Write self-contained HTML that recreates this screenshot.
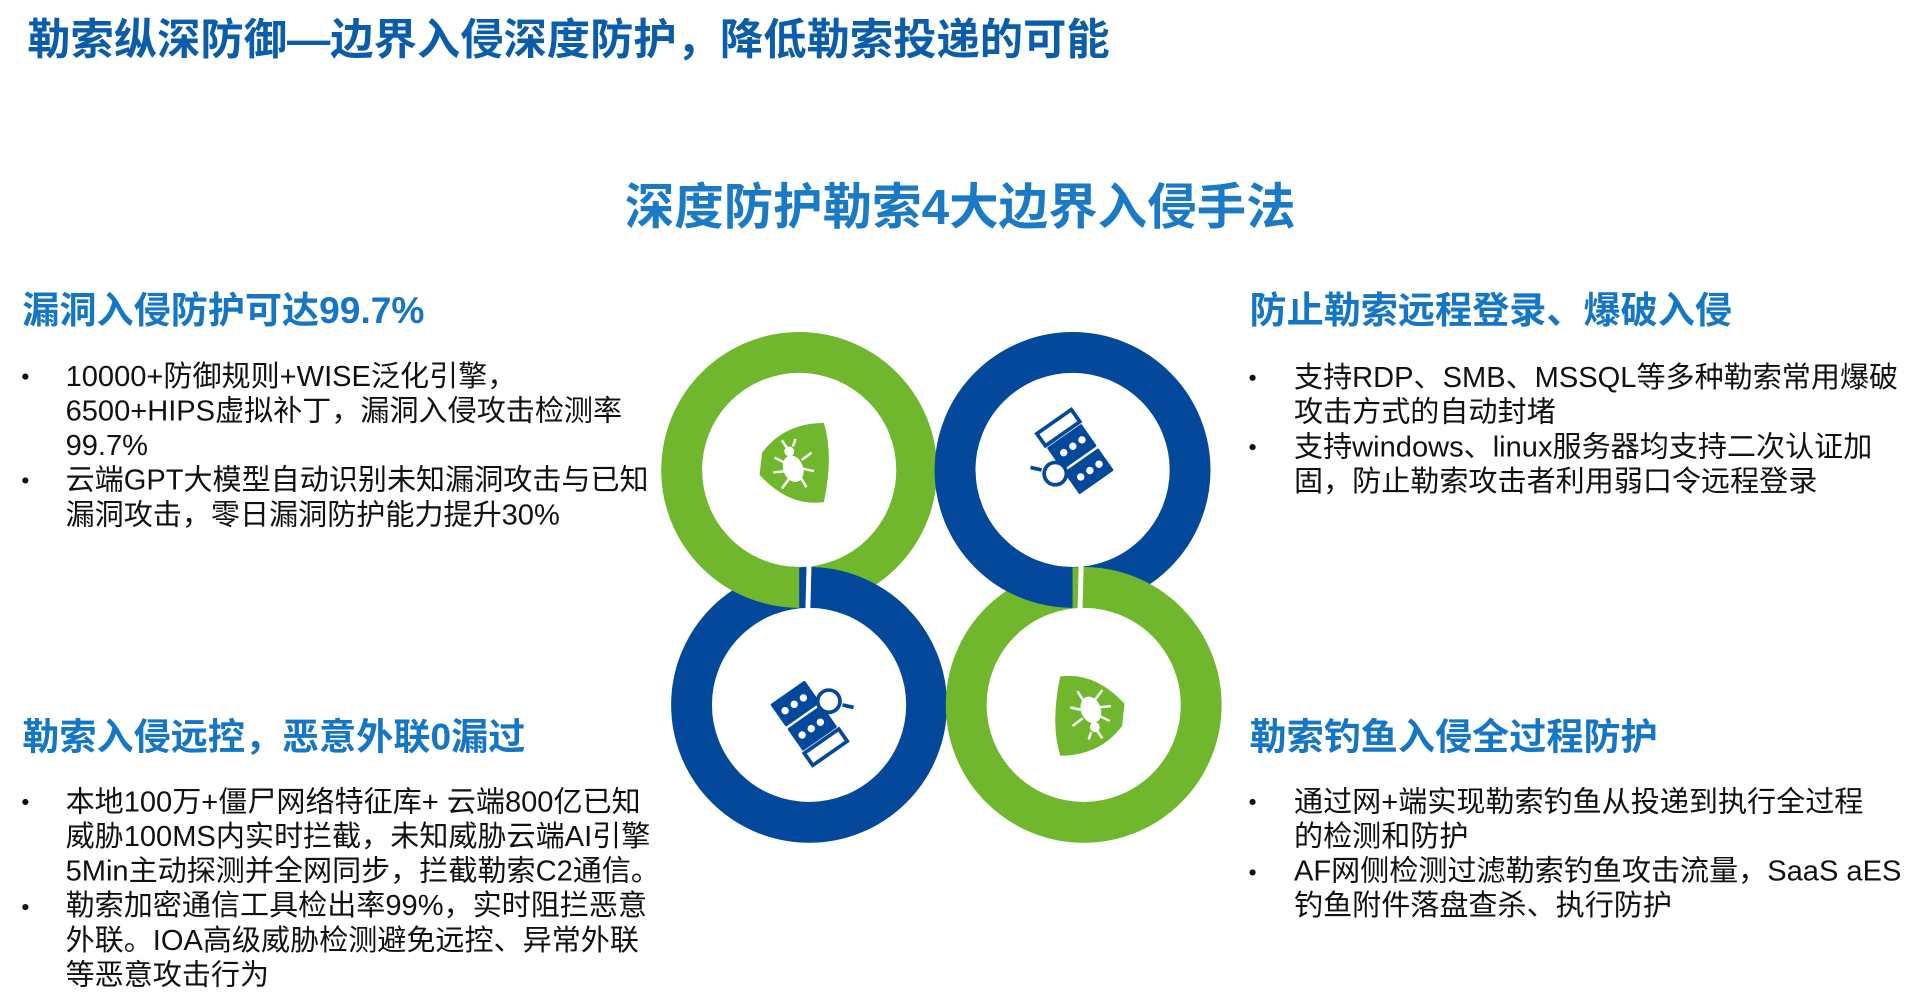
<!DOCTYPE html>
<html><head><meta charset="utf-8"><style>
html,body{margin:0;padding:0;background:#fff;width:1920px;height:1003px;overflow:hidden}
#w{position:absolute;left:0;top:0;width:1552px;height:811px;transform:scale(1.2371,1.2367);transform-origin:0 0;font-family:"Liberation Sans","Noto Sans CJK SC",sans-serif}
.t{position:absolute;white-space:nowrap}
.title{left:22px;top:12px;font-size:35px;font-weight:bold;color:#0b5cab;line-height:42px}
.sub{left:505px;top:144px;font-size:40px;font-weight:bold;color:#1a7ac6;line-height:48px}
.h{font-size:30px;font-weight:bold;color:#1476c4;line-height:36px}
.b{font-size:23.5px;color:#111;line-height:28px}
.dot{position:absolute;width:5px;height:5px;border-radius:50%;background:#111}
</style></head><body><div id="w">
<div class="t title">勒索纵深防御—边界入侵深度防护，降低勒索投递的可能</div>
<div class="t sub">深度防护勒索4大边界入侵手法</div>

<div class="t h" style="left:18px;top:234px">漏洞入侵防护可达99.7%</div>
<div class="dot" style="left:18px;top:302px"></div>
<div class="dot" style="left:18px;top:386px"></div>
<div class="t b" style="left:53px;top:290px">10000+防御规则+WISE泛化引擎，<br>6500+HIPS虚拟补丁，漏洞入侵攻击检测率<br>99.7%<br>云端GPT大模型自动识别未知漏洞攻击与已知<br>漏洞攻击，零日漏洞防护能力提升30%</div>

<div class="t h" style="left:1010px;top:234px">防止勒索远程登录、爆破入侵</div>
<div class="dot" style="left:1010px;top:303px"></div>
<div class="dot" style="left:1010px;top:359px"></div>
<div class="t b" style="left:1046px;top:291px">支持RDP、SMB、MSSQL等多种勒索常用爆破<br>攻击方式的自动封堵<br>支持windows、linux服务器均支持二次认证加<br>固，防止勒索攻击者利用弱口令远程登录</div>

<div class="t h" style="left:18px;top:579px">勒索入侵远控，恶意外联0漏过</div>
<div class="dot" style="left:18px;top:646px"></div>
<div class="dot" style="left:18px;top:731px"></div>
<div class="t b" style="left:53px;top:634px">本地100万+僵尸网络特征库+ 云端800亿已知<br>威胁100MS内实时拦截，未知威胁云端AI引擎<br>5Min主动探测并全网同步，拦截勒索C2通信。<br>勒索加密通信工具检出率99%，实时阻拦恶意<br>外联。IOA高级威胁检测避免远控、异常外联<br>等恶意攻击行为</div>

<div class="t h" style="left:1010px;top:579px">勒索钓鱼入侵全过程防护</div>
<div class="dot" style="left:1010px;top:646px"></div>
<div class="dot" style="left:1010px;top:703px"></div>
<div class="t b" style="left:1046px;top:634px">通过网+端实现勒索钓鱼从投递到执行全过程<br>的检测和防护<br>AF网侧检测过滤勒索钓鱼攻击流量，SaaS aES<br>钓鱼附件落盘查杀、执行防护</div>

<svg style="position:absolute;left:0;top:0" width="1552" height="811">
<defs>
<g id="bug">
<path d="M-28,-12 Q-10,-36 22,-36 Q30,-10 22,28 Q-6,32 -30,6 Z" fill="#70b72e"/>
<ellipse cx="-3" cy="0" rx="8" ry="11" fill="#fff" transform="rotate(-20)"/>
<circle cx="-6" cy="-13" r="4" fill="#fff"/>
<g stroke="#fff" stroke-width="2" fill="none"><path d="M-10,-4 L-18,-8 M-9,3 L-19,4 M-6,9 L-12,17 M4,-6 L12,-12 M5,1 L14,3 M3,8 L8,16 M-8,-16 L-12,-22 M-3,-17 L-1,-23"/></g>
</g>
<g id="srv" fill="#03489b">
<g transform="rotate(-35)">
<rect x="-6" y="-26" width="34" height="22" rx="1"/>
<rect x="-6" y="-2" width="34" height="22" rx="1"/>
<g fill="#fff"><circle cx="3" cy="-15" r="3"/><circle cx="12" cy="-15" r="3"/><circle cx="21" cy="-15" r="3"/><circle cx="3" cy="9" r="3"/><circle cx="12" cy="9" r="3"/><circle cx="21" cy="9" r="3"/></g>
<rect x="-6" y="-40" width="34" height="12" fill="none" stroke="#03489b" stroke-width="3"/>
</g>
<circle cx="-13" cy="3" r="9" fill="#fff" stroke="#03489b" stroke-width="3"/>
<line x1="-24" y1="0" x2="-33" y2="-2" stroke="#03489b" stroke-width="3"/>
</g>
</defs>
<g fill="none" stroke-width="33">
<circle cx="646" cy="380" r="95" stroke="#70b72e"/>
<circle cx="867" cy="380" r="95" stroke="#03489b"/>
<circle cx="654" cy="570" r="95" stroke="#03489b"/>
<circle cx="876" cy="570" r="95" stroke="#70b72e"/>
<path d="M646,475 A95,95 0 0 1 551,380" stroke="#70b72e"/>
<path d="M867,475 A95,95 0 0 1 772,380" stroke="#03489b"/>
</g>
<line x1="654" y1="456" x2="653" y2="494" stroke="#fff" stroke-width="4"/>
<line x1="874" y1="456" x2="873" y2="494" stroke="#fff" stroke-width="4"/>
<use href="#bug" x="644" y="378"/>
<use href="#bug" x="879" y="575" transform="rotate(180 879 575)"/>
<use href="#srv" x="866" y="380"/>
<use href="#srv" x="657" y="570" transform="rotate(180 657 570)"/>
</svg>
</div></body></html>
